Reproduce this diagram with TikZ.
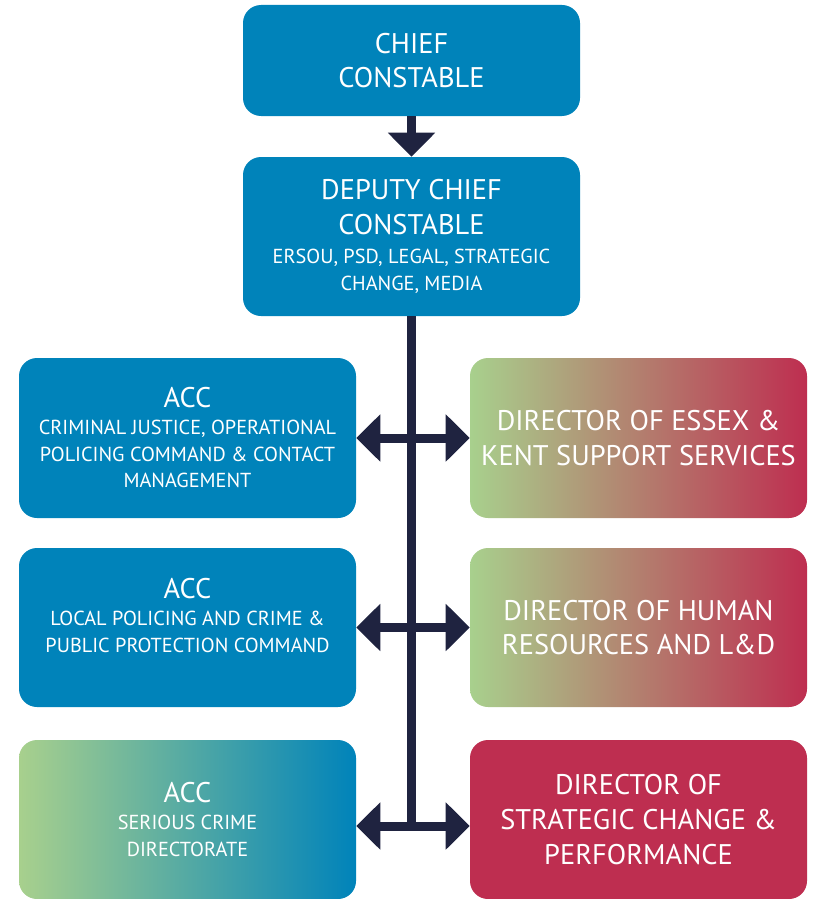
\documentclass[tikz,border=0pt]{standalone}
\usepackage{fontspec}
\setmainfont{PT Sans}
\usetikzlibrary{arrows.meta}
\definecolor{policeblue}{RGB}{0,131,186}
\definecolor{navyline}{RGB}{31,35,64}
\definecolor{palegreen}{RGB}{168,208,141}
\definecolor{crimson}{RGB}{190,46,80}
\definecolor{tealmid}{RGB}{0,163,181}
\definecolor{tanmid}{RGB}{192,154,124}
\tikzset{
	box/.style={rounded corners=13.5pt, minimum width=252.75pt, text=white, align=center, inner sep=0pt},
	bluebox/.style={box, fill=policeblue},
	redbox/.style={box, fill=crimson},
	greenred/.style={box, left color=palegreen, middle color=tanmid, right color=crimson},
	greenblue/.style={box, left color=palegreen, middle color=tealmid, right color=policeblue},
	link/.style={draw=navyline, line width=6.75pt, >={Triangle[length=18pt,width=34.5pt]}},
	bigfont/.style={font=\fontsize{21.3}{26}\selectfont},
}
\newcommand{\subsize}{\fontsize{15.2}{19.5}\selectfont}
\begin{document}
\begin{tikzpicture}[x=0.75pt,y=-0.75pt]
	\useasboundingbox (0,0) rectangle (814,899);

	\node[bluebox, bigfont, minimum height=83.25pt] (cc) at (411.5,60.5) {CHIEF\\CONSTABLE};
	\node[bluebox, bigfont, minimum height=119.25pt] (dcc) at (411.5,236.5)
		{DEPUTY CHIEF\\CONSTABLE\\[-4pt]\subsize ERSOU, PSD, LEGAL, STRATEGIC\\[-6pt]\subsize CHANGE, MEDIA};

	\node[bluebox, bigfont, minimum height=120pt] (acca) at (187.5,438)
		{ACC\\[-6pt]\subsize CRIMINAL JUSTICE, OPERATIONAL\\[-6pt]\subsize POLICING COMMAND \& CONTACT\\[-6pt]\subsize MANAGEMENT};
	\node[bluebox, bigfont, minimum height=119.25pt, text depth=18pt] (accb) at (187.5,627.5)
		{ACC\\[-6pt]\subsize LOCAL POLICING AND CRIME \&\\[-6pt]\subsize PUBLIC PROTECTION COMMAND};
	\node[greenblue, bigfont, minimum height=119.25pt] (accc) at (187.5,819.5)
		{ACC\\[-6pt]\subsize SERIOUS CRIME\\[-6pt]\subsize DIRECTORATE};

	\node[greenred, bigfont, minimum height=120pt] (dira) at (638.5,438)
		{DIRECTOR OF ESSEX \&\\KENT SUPPORT SERVICES};
	\node[greenred, bigfont, minimum height=119.25pt] (dirb) at (638.5,627.5)
		{DIRECTOR OF HUMAN\\RESOURCES AND L\&D};
	\node[redbox, bigfont, minimum height=119.25pt] (dirc) at (638.5,819.5)
		{DIRECTOR OF\\STRATEGIC CHANGE \&\\PERFORMANCE};

	\coordinate (spineend) at (411.5,826);
	\draw[link, ->] (cc.south) -- (dcc.north);
	\draw[link] (dcc.south) -- (spineend);
	\draw[link, <->] (acca.east) -- (dira.west);
	\draw[link, <->] (accb.east |- dirb.west) -- (dirb.west);
	\draw[link, <->] (accc.east |- spineend) -- (dirc.west |- spineend);
\end{tikzpicture}
\end{document}
